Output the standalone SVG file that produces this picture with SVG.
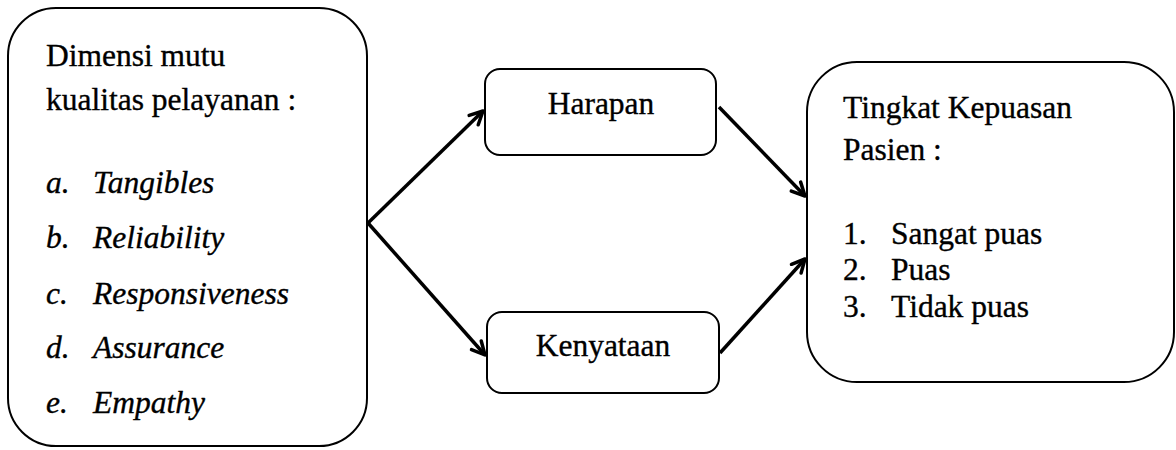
<svg xmlns="http://www.w3.org/2000/svg" width="1176" height="450" viewBox="0 0 1176 450">
<style>
.box{fill:#fff;stroke:#000;stroke-width:2}
.t{font-family:'Liberation Serif','Times New Roman',serif;font-size:31.5px;fill:#000;stroke:#000;stroke-width:0.35}
.i{font-style:italic}
.c{text-anchor:middle}
.conn{stroke:#000;stroke-width:3.5;fill:none;marker-end:url(#arr)}
</style>
<defs>
<marker id="arr" viewBox="0 0 18 18" refX="16" refY="9" markerWidth="18" markerHeight="18" markerUnits="userSpaceOnUse" orient="auto">
<path d="M3,2.5 L16,9 L3,15.5" fill="none" stroke="#000" stroke-width="3.5" stroke-linecap="round" stroke-linejoin="round"/>
</marker>
</defs>
<rect width="1176" height="450" fill="#fff"/>
<g id="connectors">
<line class="conn" x1="368" y1="223" x2="483" y2="111"/>
<line class="conn" x1="368" y1="223" x2="485" y2="355"/>
<line class="conn" x1="719" y1="107" x2="805" y2="196"/>
<line class="conn" x1="720" y1="353" x2="805" y2="259"/>
</g>
<g id="dimensi">
<rect class="box" x="8" y="8" width="359" height="438" rx="48"/>
<text class="t" x="46" y="66">Dimensi mutu</text>
<text class="t" x="46" y="110">kualitas pelayanan :</text>
<text class="t i" x="46" y="193">a.</text><text class="t i" x="93" y="193">Tangibles</text>
<text class="t i" x="46" y="248">b.</text><text class="t i" x="93" y="248">Reliability</text>
<text class="t i" x="46" y="304">c.</text><text class="t i" x="93" y="304">Responsiveness</text>
<text class="t i" x="46" y="358">d.</text><text class="t i" x="93" y="358">Assurance</text>
<text class="t i" x="46" y="413">e.</text><text class="t i" x="93" y="413">Empathy</text>
</g>
<g id="harapan">
<rect class="box" x="485" y="69" width="231" height="86" rx="15"/>
<text class="t c" x="601" y="114">Harapan</text>
</g>
<g id="kenyataan">
<rect class="box" x="487" y="312" width="232" height="81" rx="15"/>
<text class="t c" x="603" y="356">Kenyataan</text>
</g>
<g id="kepuasan">
<rect class="box" x="807" y="62" width="367" height="320" rx="50"/>
<text class="t" x="843" y="118">Tingkat Kepuasan</text>
<text class="t" x="843" y="160">Pasien :</text>
<text class="t" x="843" y="244">1.</text><text class="t" x="891" y="244">Sangat puas</text>
<text class="t" x="843" y="280">2.</text><text class="t" x="891" y="280">Puas</text>
<text class="t" x="843" y="317">3.</text><text class="t" x="891" y="317">Tidak puas</text>
</g>
</svg>
